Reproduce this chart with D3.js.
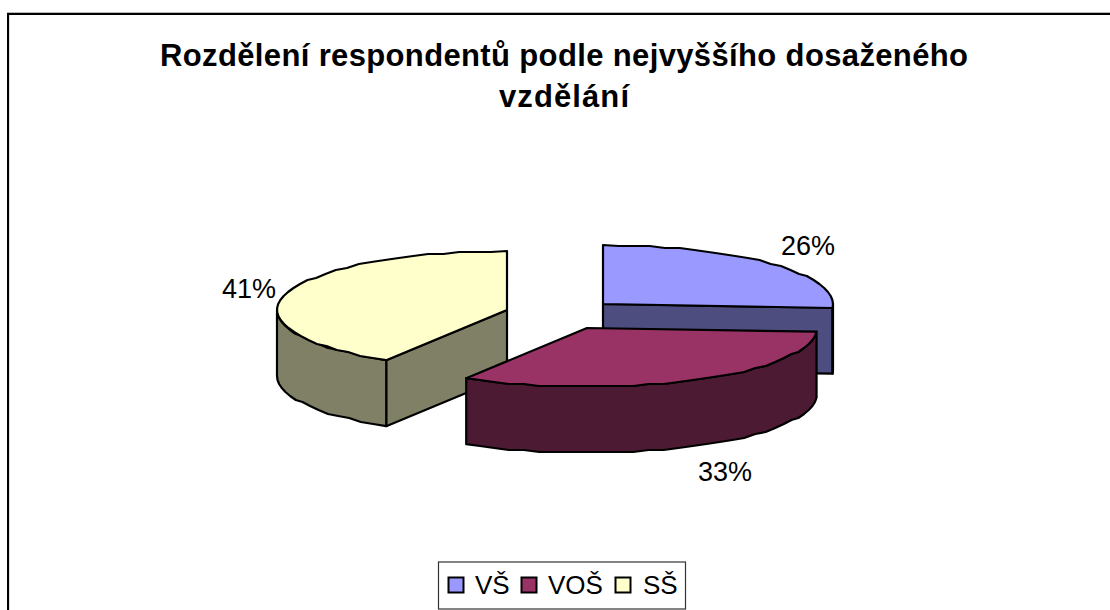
<!DOCTYPE html>
<html><head><meta charset="utf-8">
<script src="https://cdn.jsdelivr.net/npm/d3@7"></script>
<style>html,body{margin:0;padding:0;background:#fff;overflow:hidden}svg{display:block}text{font-family:"Liberation Sans",Arial,sans-serif;fill:#000}</style>
</head><body><svg id="c" width="1110" height="610"></svg>
<script>
const categories = ["VŠ","VOŠ","SŠ"];
const values = [26,32.8,41.2];
const topColors = ["#9999FF","#993366","#FFFFCC"];
const sideColors = ["#4D4D80","#4D1A33","#808066"];
const titleLines = ["Rozdělení respondentů podle nejvyššího dosaženého","vzdělání"];

const W=1110,H=610, RX=230, RY=59, DEPTH=66;
const centers=[[603,304],[587,328],[507,310]];
const labelPos=[[808,246],[725,472],[249,289]];
const svg=d3.select("#c");

// page frame
svg.append("line").attr("x1",7).attr("x2",W).attr("y1",12.5).attr("y2",12.5).attr("stroke","#bbb");
svg.append("line").attr("x1",9.5).attr("x2",9.5).attr("y1",15).attr("y2",H).attr("stroke","#ddd");
svg.append("line").attr("x1",7).attr("x2",W).attr("y1",14).attr("y2",14).attr("stroke","#000").attr("stroke-width",2);
svg.append("line").attr("x1",8).attr("x2",8).attr("y1",13).attr("y2",H).attr("stroke","#000").attr("stroke-width",2);

// title
svg.selectAll("text.t").data(titleLines).join("text").attr("class","t")
 .attr("x",564).attr("y",(d,i)=>66+i*41).attr("text-anchor","middle")
 .attr("font-size",31).attr("font-weight","bold")
 .attr("textLength",(d,i)=>i==0?808:130).attr("lengthAdjust","spacing").text(d=>d);

const pie=d3.pie().sort(null).value(d=>d)(values);
const total=d3.sum(values);
const px=a=>RX*Math.sin(a), py=a=>-RY*Math.cos(a);
// the reference's outline is a coarse polygon snapped to a pixel grid
const snapY=v=>Math.round(v/2)*2;
const sample=(a0,a1)=>{
  const n=Math.max(2,Math.ceil((a1-a0)/0.07));
  return d3.range(0,n+1).map(i=>a0+(a1-a0)*i/n);
};
const yAt=(a,a0,a1)=>(a===a0||a===a1)?py(a):snapY(py(a));
const topPath=(a0,a1)=>d3.line()([[0,0],...sample(a0,a1).map(a=>[px(a),yAt(a,a0,a1)])])+"Z";
const wallPath=(a0,a1)=>d3.area().x(a=>px(a)).y0(a=>yAt(a,a0,a1)).y1(a=>yAt(a,a0,a1)+DEPTH)(sample(a0,a1));

const style=s=>s.attr("stroke","#000").attr("stroke-width",2.2).attr("stroke-linejoin","round");
[2,0,1].forEach(i=>{
  const p=pie[i], g=svg.append("g").attr("transform",`translate(${centers[i]})`);
  const a0=p.startAngle,a1=p.endAngle;
  const cut=i==0?a1:(i==2?a0:null);
  if(cut!==null){
    g.append("path").attr("d",`M0,0L${px(cut)},${py(cut)}L${px(cut)},${py(cut)+DEPTH}L0,${DEPTH}Z`)
     .attr("fill",sideColors[i]).call(style);
  }
  const f0=Math.max(a0,Math.PI/2), f1=Math.min(a1,Math.PI*1.5);
  if(f1>f0){
    g.append("path").attr("d",wallPath(f0,f1)).attr("fill",sideColors[i]).call(style);
  }
  g.append("path").attr("d",topPath(a0,a1)).attr("fill",topColors[i]).call(style);
});

// percent labels
svg.selectAll("text.p").data(values).join("text").attr("class","p")
 .attr("x",(d,i)=>labelPos[i][0]).attr("y",(d,i)=>labelPos[i][1]+9).attr("text-anchor","middle")
 .attr("font-size",27).text(d=>Math.round(d/total*100)+"%");

// legend
const lg=svg.append("g");
lg.append("rect").attr("x",438.5).attr("y",562).attr("width",247).attr("height",47).attr("fill","#fff").attr("stroke","#333").attr("stroke-width",1.2);
const lx=[448.5,521.5,615.5], tx=[475,548,643];
categories.forEach((c,i)=>{
  lg.append("rect").attr("x",lx[i]).attr("y",577.5).attr("width",15).attr("height",15).attr("fill",topColors[i]).attr("stroke","#000").attr("stroke-width",2);
  lg.append("text").attr("x",tx[i]).attr("y",594).attr("font-size",26).text(c);
});
</script></body></html>
